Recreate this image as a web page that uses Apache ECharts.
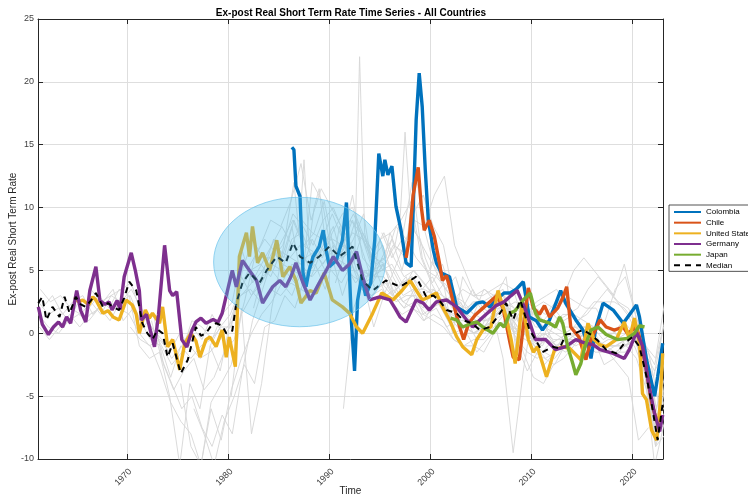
<!DOCTYPE html>
<html><head><meta charset="utf-8">
<script src="https://cdn.jsdelivr.net/npm/echarts@6/dist/echarts.min.js"></script>
<style>html,body{margin:0;padding:0;background:#fff}#c{width:748px;height:496px}</style>
</head><body><div id="c"></div><script>
// ---- axes ----
const xMin = 1961.17, xMax = 2023.03;
const yMin = -10, yMax = 25, yStep = 5;
const xTickYears = [1970, 1980, 1990, 2000, 2010, 2020];

// ---- highlighted series: [year, rate] ----
const colombia = [[1986.3,14.8],[1986.5,14.6],[1986.7,11.7],[1987.1,10.9],[1987.3,7.0],[1987.4,4.8],[1987.7,3.7],[1988.0,5.0],[1988.4,6.1],[1989.0,6.9],[1989.4,8.2],[1989.7,6.6],[1990.0,5.3],[1990.7,5.8],[1991.3,7.4],[1991.7,10.4],[1992.2,0.8],[1992.5,-3.0],[1992.8,2.6],[1993.2,4.5],[1993.6,3.0],[1994.1,4.0],[1994.5,7.4],[1994.9,14.3],[1995.3,12.5],[1995.5,13.8],[1995.8,12.6],[1996.2,13.3],[1996.6,10.1],[1997.1,8.2],[1997.6,5.6],[1998.1,5.3],[1998.3,9.8],[1998.6,17.0],[1998.9,20.7],[1999.2,18.0],[1999.5,13.0],[1999.8,9.0],[2000.3,6.6],[2000.6,5.6],[2001.1,4.8],[2001.9,4.5],[2002.6,2.1],[2003.6,1.6],[2004.6,2.4],[2005.2,2.5],[2005.9,2.1],[2006.5,2.65],[2007.3,3.2],[2007.9,3.2],[2008.5,3.5],[2009.2,4.1],[2009.8,1.3],[2010.5,1.0],[2011.1,0.26],[2011.8,1.06],[2012.9,3.4],[2013.4,2.4],[2014.4,1.06],[2015.1,0.26],[2015.6,-1.0],[2015.9,-2.0],[2016.4,0.5],[2017.1,2.4],[2018.1,1.85],[2019.1,0.8],[2020.4,2.25],[2020.7,1.3],[2021.4,-2.1],[2022.2,-5.0],[2022.5,-3.45],[2023.0,-0.8]];
const chile = [[1997.6,6.0],[1997.9,7.4],[1998.3,11.0],[1998.8,13.2],[1999.1,10.1],[1999.4,8.2],[1999.9,9.0],[2000.4,7.7],[2000.9,5.6],[2001.2,4.2],[2001.6,4.6],[2001.9,3.7],[2002.4,2.0],[2002.9,0.5],[2003.3,-0.5],[2003.8,0.8],[2004.5,1.5],[2005.2,2.0],[2005.9,2.5],[2006.6,3.0],[2007.2,2.0],[2007.9,-0.8],[2008.2,-1.9],[2008.8,-2.1],[2009.2,0.5],[2009.7,3.6],[2010.2,2.0],[2010.8,1.5],[2011.3,2.2],[2011.8,1.3],[2012.6,2.0],[2013.1,2.8],[2013.5,3.7],[2013.9,0.5],[2014.7,-0.3],[2015.4,-2.1],[2015.9,-0.5],[2016.8,1.06],[2017.4,0.5],[2018.2,0.26],[2019.1,0.5],[2019.5,0.0],[2020.4,0.5],[2020.7,-0.3],[2021.3,-2.5],[2021.9,-5.5],[2022.4,-7.0],[2022.8,-6.5]];
const unitedStates = [[1964.8,2.9],[1965.2,2.5],[1965.6,2.65],[1966.2,2.25],[1966.6,2.9],[1966.9,2.65],[1967.6,1.6],[1968.1,1.8],[1968.6,1.3],[1969.2,1.06],[1969.9,2.65],[1970.5,2.25],[1970.9,1.5],[1971.2,0.0],[1971.8,1.85],[1972.2,1.2],[1972.5,1.6],[1973.2,0.8],[1973.5,2.1],[1974.0,-1.07],[1974.5,-0.5],[1975.2,-2.9],[1975.7,-0.8],[1976.3,0.0],[1976.8,-0.6],[1977.2,-1.9],[1977.8,-0.5],[1978.2,-0.3],[1978.8,-1.06],[1979.4,0.26],[1979.8,-1.9],[1980.1,-0.3],[1980.7,-2.65],[1981.1,6.1],[1981.8,8.0],[1982.1,6.1],[1982.4,8.5],[1982.9,5.6],[1983.4,6.4],[1984.1,5.0],[1984.8,7.4],[1985.4,4.5],[1986.1,5.3],[1986.7,4.2],[1987.2,2.4],[1988.1,3.4],[1988.7,3.2],[1989.5,4.8],[1990.3,2.65],[1991.3,2.1],[1992.0,1.6],[1992.7,0.5],[1993.3,0.0],[1994.3,1.6],[1995.2,3.2],[1996.3,2.65],[1997.2,3.4],[1998.0,4.2],[1999.2,2.65],[1999.9,2.9],[2000.6,3.2],[2001.2,2.1],[2001.9,1.06],[2002.6,-0.27],[2003.2,-1.07],[2004.1,-1.7],[2004.6,-0.5],[2005.2,0.26],[2006.0,0.5],[2006.7,3.4],[2007.2,2.1],[2007.5,1.3],[2008.0,-0.5],[2008.4,-2.4],[2008.8,0.26],[2009.1,2.6],[2009.7,-0.5],[2010.2,-1.5],[2010.6,-1.07],[2011.5,-3.45],[2012.3,-1.3],[2013.1,-1.07],[2013.8,-1.2],[2014.9,-2.1],[2015.6,0.8],[2016.2,-0.5],[2016.8,-0.93],[2017.4,-1.07],[2018.4,-0.5],[2019.2,0.9],[2019.7,-0.5],[2020.2,1.2],[2020.7,-0.8],[2021.0,-4.8],[2021.4,-5.3],[2021.9,-7.7],[2022.4,-8.5],[2022.7,-6.1],[2023.0,-1.6]];
const germany = [[1961.2,2.1],[1961.6,0.7],[1962.2,-0.1],[1962.7,0.5],[1963.2,0.9],[1963.6,0.5],[1964.0,1.3],[1964.4,0.8],[1965.0,3.4],[1965.4,1.8],[1965.9,0.9],[1966.3,3.4],[1966.9,5.3],[1967.3,2.6],[1967.8,2.3],[1968.2,2.5],[1968.5,1.85],[1969.0,2.6],[1969.3,1.9],[1969.7,4.5],[1970.4,6.4],[1970.8,5.0],[1971.2,3.4],[1971.4,1.05],[1971.9,1.5],[1972.3,0.2],[1972.7,-1.07],[1973.1,1.5],[1973.7,7.0],[1974.2,3.4],[1974.5,3.0],[1974.9,3.3],[1975.4,-0.5],[1975.9,-1.1],[1976.4,0.2],[1976.8,0.9],[1977.3,1.2],[1977.8,0.8],[1978.5,1.1],[1979.0,0.9],[1979.4,1.6],[1980.1,4.0],[1980.4,5.0],[1980.8,3.7],[1981.4,5.8],[1982.1,5.0],[1982.8,4.2],[1983.4,2.4],[1984.0,3.2],[1984.4,3.7],[1985.1,4.2],[1985.7,3.7],[1986.2,4.5],[1986.7,5.6],[1987.4,4.0],[1988.1,2.65],[1989.0,4.0],[1989.7,5.0],[1990.4,6.1],[1991.3,5.0],[1992.0,5.5],[1992.7,6.5],[1993.3,4.5],[1994.0,2.65],[1995.0,2.9],[1996.0,2.65],[1996.5,2.0],[1997.0,1.3],[1997.6,0.9],[1998.6,2.65],[1999.3,2.4],[1999.9,1.85],[2000.6,2.5],[2001.6,2.65],[2002.6,2.1],[2003.6,1.06],[2004.2,0.5],[2004.9,1.06],[2005.5,1.5],[2006.5,2.2],[2007.3,2.5],[2008.0,3.0],[2008.6,3.4],[2009.4,1.9],[2010.4,-0.5],[2011.4,-0.5],[2012.4,-1.3],[2013.4,-1.07],[2014.4,-0.5],[2015.4,-0.8],[2016.1,-0.9],[2016.8,-1.3],[2018.1,-1.6],[2019.2,-2.0],[2019.7,-1.3],[2020.4,0.1],[2021.0,-1.0],[2021.6,-4.0],[2022.2,-6.4],[2022.7,-7.8],[2023.0,-6.5]];
const japan = [[2002.0,1.2],[2002.6,1.06],[2003.2,0.5],[2004.1,0.8],[2004.6,0.9],[2005.2,0.5],[2006.2,0.0],[2006.9,0.8],[2007.3,0.5],[2007.9,1.6],[2008.4,1.8],[2009.2,2.65],[2009.9,3.2],[2010.4,1.6],[2010.8,1.06],[2011.8,0.8],[2012.4,0.5],[2012.8,1.3],[2013.1,0.8],[2013.6,-1.07],[2014.1,-2.4],[2014.4,-3.3],[2014.9,-2.4],[2015.3,-1.07],[2015.9,0.26],[2016.6,0.5],[2017.4,-0.1],[2018.5,-0.5],[2019.5,-0.4],[2020.2,0.0],[2020.7,0.6],[2021.2,0.5]];
const median = [[1961.2,2.4],[1961.6,2.9],[1962.0,1.06],[1962.6,2.1],[1963.3,1.3],[1963.8,2.9],[1964.3,1.6],[1964.9,2.9],[1965.4,2.3],[1965.9,2.1],[1966.4,2.6],[1966.9,3.2],[1967.6,2.1],[1968.1,2.4],[1968.6,2.1],[1969.2,1.85],[1969.7,2.8],[1970.2,4.1],[1970.9,3.4],[1971.5,0.8],[1972.0,0.0],[1972.5,-0.5],[1973.0,0.3],[1973.5,0.0],[1974.0,-1.9],[1974.5,-0.8],[1975.3,-3.2],[1976.0,-2.1],[1976.8,0.5],[1977.3,-0.2],[1977.8,0.0],[1978.3,0.6],[1978.8,0.8],[1979.4,0.6],[1979.8,0.0],[1980.4,0.2],[1980.8,2.4],[1981.4,4.0],[1982.1,4.8],[1983.1,4.0],[1983.8,5.0],[1984.8,6.1],[1985.7,5.6],[1986.4,7.2],[1987.1,6.1],[1988.1,5.6],[1989.0,6.1],[1990.0,6.9],[1991.0,6.1],[1992.3,6.9],[1993.3,4.2],[1994.3,3.4],[1995.6,4.2],[1997.0,3.7],[1998.6,4.5],[1999.6,2.9],[2000.3,3.0],[2000.9,2.6],[2001.6,1.85],[2002.6,1.6],[2003.2,1.06],[2004.1,0.8],[2004.9,0.26],[2005.9,0.5],[2006.9,1.6],[2007.5,2.4],[2008.2,1.06],[2008.9,2.65],[2009.8,0.3],[2010.4,-0.5],[2011.1,-1.5],[2012.1,-1.07],[2012.8,-1.2],[2013.4,-0.1],[2014.3,0.0],[2015.1,0.26],[2015.9,-0.1],[2016.6,-0.6],[2017.4,-1.3],[2018.4,-1.6],[2019.2,-0.8],[2020.0,-0.3],[2020.7,-1.07],[2021.4,-3.45],[2021.9,-5.6],[2022.5,-8.5],[2023.0,-5.6]];

// ---- other countries (grey), regular steps from a start year ----
const grayA = [2.5,1.5,2.0,1.0,2.5,2.0,3.0,2.0,3.5,3.0,-1.0,-2.0,-1.5,-5.0,-10.5,-4.0,-6.0,-1.0,-3.0,1.0,3.5,5.0,5.5,4.5,6.5,6.0,5.5,4.5,6.5,7.5,6.0,6.5,3.5,3.0,4.0,3.0,4.0,4.5,3.0,3.5,3.0,2.0,1.5,2.5,2.5,2.0,3.0,1.0,-1.5,-3.5,-4.0,-2.5,-2.0,-1.0,0.0,-0.5,-2.5,-2.0,-1.0,-0.5,-2.5,-8.5,-4.5];
const grayB = [3.5,2.5,3.0,2.0,1.5,2.5,1.5,3.0,3.5,4.0,1.5,0.5,-1.0,-2.5,-1.5,1.0,0.5,-0.5,1.5,2.5,6.5,4.0,5.0,6.5,5.5,5.0,4.5,5.5,7.0,8.5,5.5,4.5,4.0,4.5,5.5,3.0,2.0,3.5,3.5,3.0,1.5,0.0,0.5,0.0,0.5,2.0,2.0,0.0,-0.5,-1.0,-2.0,-1.5,-0.5,-1.0,-0.5,-1.0,-1.0,-0.5,0.0,-0.5,-3.0,-6.0,-1.0];
const grayC = [0.5,-0.5,0.5,1.5,0.5,1.5,2.0,1.0,2.5,3.0,1.0,-0.5,-1.0,-3.5,-1.0,-2.0,-1.0,-0.5,0.5,0.5,4.5,3.0,4.5,5.0,4.0,5.5,5.0,4.5,5.5,6.5,6.5,8.0,7.5,5.0,5.5,3.5,2.5,3.0,2.0,3.5,2.5,1.0,0.5,0.0,0.5,1.5,2.5,1.5,0.0,-1.0,-1.5,-2.0,-1.0,-0.5,0.0,-0.5,-1.0,-1.5,-1.5,-0.5,-2.0,-7.5,-5.0];
const grayD = [0.5,-0.5,-1.0,-3.0,-5.5,-7.0,-8.0,-10.5,-5.5,-4.0,-2.5,1.5,3.0,4.0,5.5,5.0,7.5,8.0,6.0,7.5,7.5,7.0,9.0,6.5,4.0,5.5,4.0,2.5,2.0,1.0,1.5,1.0,-0.5,-1.0,-1.0,-1.5,0.0,1.0,0.5,0.0,-1.5,-2.0,-2.5,-1.0,0.0,0.5,0.0,-1.5,-1.5,-1.0,0.0,-2.5,-9.0,-6.0];
const grayE = [1.0,-2.0,-4.0,-6.0,-5.0,-7.5,-9.0,-6.5,-8.0,-3.0,1.0,3.5,6.0,7.0,9.5,8.5,7.0,9.0,10.0,8.0,9.5,7.5,6.5,8.0,6.0,4.5,5.0,4.0,3.0,4.0,3.0,2.0,1.5,1.0,1.5,2.0,2.5,2.0,0.5,0.5,-1.0,-1.5,-0.5,0.0,-0.5,-1.0,-1.0,-0.5,0.5,-1.5,-8.0,-3.0];
const grayF = [-1.0,0.5,1.5,3.5,5.5,7.0,9.0,8.5,10.5,13.5,9.0,11.5,10.0,8.5,7.0,5.0,4.5,5.0,5.5,4.0,4.5,3.5,4.5,3.0,2.5,3.5,3.0,3.0,3.5,4.0,3.5,1.0,2.0,2.5,2.0,1.0,1.5,1.0,0.5,0.0,0.0,-0.5,-1.0,-3.0,-6.5,-3.5];
const grayG = [-5.0,2.0,-8.0,-4.0,2.0,6.0,8.5,4.0,12.0,10.5,6.0,3.0,5.5,8.0,6.5,5.0,7.0,6.5,9.5,11.0,8.5,7.0,3.0,2.5,1.5,3.5,3.0,3.0,2.0,1.5,1.0,1.0,0.5,0.0,0.5,0.0,0.5,1.0,3.5,4.5,1.5,-1.0,-2.0,3.0];
const grayH = [5.0,7.0,9.5,12.0,8.0,13.8,7.0,10.0,11.5,8.0,7.0,6.0,8.5,7.0,6.5,5.5,22.0,8.0,6.0,5.0,7.5,6.0,8.0,7.0,9.0,16.0,10.0,8.0,7.5,6.0,5.0,6.5,4.5,3.5,3.0,2.0,2.5,1.5,1.0];
const grayI = [8.0,6.0,7.5,12.0,6.0,4.0,5.5,3.0,2.0,3.5,2.0,1.5,-2.0,-9.5,-3.0,2.0,1.0,2.0,3.0,5.0,6.0,5.0,4.0,3.0,5.5,2.0,-3.0,-10.5,-7.0];
const grayJ = [-6.0,2.0,4.0,0.5,3.0,5.0,7.0,9.0,8.5,11.0,12.5,7.0,5.0,3.0,3.5,2.5,2.5,1.0,2.5,2.0,1.5,2.5,3.0,2.5,2.0,2.0,0.5,0.0,-1.0,-2.0,-4.5,-8.0,-7.0];
const grayK = [6.0,7.0,5.0,7.0,5.5,6.0,9.0,8.0,6.0,7.5,8.0,9.0,10.5,6.0,4.0,2.5,1.5,1.0,1.0,0.5,2.5,2.5,0.5,0.0,-0.5,-1.0,0.5,1.5,1.5,0.5,0.5,-0.5,0.0,1.0,0.0,-1.5,-3.5,0.5];
const grayL = [3.0,4.0,5.5,7.0,8.5,7.0,9.0,8.0,7.5,9.5,7.5,11.0,6.0,5.0,6.0,5.0,3.5,5.0,4.0,3.0,2.0,3.5,1.0,0.5,0.5,1.0,2.5,2.0,0.0,-0.5,0.5,0.0,-0.5,-0.5,-0.5,-1.5,-1.5,-1.5,-1.0,-0.5,-3.5,-9.0,-8.0];
const grayM = [1.5,0.5,0.0,1.0,1.5,1.0,2.0,2.5,2.0,1.5,0.0,-1.0,-0.5,-1.5,0.0,-1.0,-2.0,-1.5,-0.5,0.5,3.0,3.5,2.5,3.5,3.0,4.0,3.5,3.0,4.5,5.0,4.0,5.5,3.5,3.0,3.5,2.5,1.5,2.0,1.5,2.0,2.5,1.0,0.0,0.0,0.5,1.0,1.5,1.0,0.0,-0.5,0.0,-0.5,-0.5,0.0,-0.5,-0.5,-1.0,-1.0,-1.0,-0.5,-1.5,-3.0,-1.5];
const grayN = [-4.0,-9.0,-10.5,-6.0,-8.5,-4.5,-2.0,0.0,1.5,2.5,4.0,3.0,5.0,7.5,6.0,8.0,9.5,10.0,8.0,6.0,7.0,4.5,3.0,3.5,1.5,1.0,0.5,-0.5,-1.0,-0.5,-0.5,0.5,1.5,0.0,1.0,-1.0,-2.5,-1.5,0.0,0.5,0.5,-0.5,-1.5,-1.0,-0.5,0.0,-2.0,-8.5,-6.0];
const grayO = [3.5,2.5,3.0,2.5,3.5,2.0,0.5,-0.5,-2.0,-1.0,0.5,-0.5,1.5,0.0,1.0,5.0,7.5,6.0,6.0,7.5,9.0,7.0,6.5,5.5,7.0,6.0,7.5,9.5,4.5,4.5,3.0,2.0,2.5,1.0,2.5,2.0,1.5,0.5,0.0,0.0,1.5,2.0,1.5,0.0,-0.5,0.0,-1.0,-0.5,-0.5,-0.5,-1.0,-1.0,-1.0,-1.0,-0.5,-2.0,-7.0,-5.5];
const grayP = [4.0,6.0,7.5,5.0,8.5,7.0,5.5,4.5,0.0,4.5,3.0,2.5,3.0,3.5,-2.0,2.5,1.5,0.5,1.5,0.5,0.5,1.5,2.5,2.5,2.5,2.0,1.0,-1.0,-2.5,1.0];
const grayQ = [2.0,3.0,1.5,2.5,3.0,1.5,2.5,3.5,1.0,2.0,0.5,1.5,-2.5,-4.5,-3.0,-2.0,-4.5,-3.5,-1.5,-0.5,2.5,6.0,7.5,6.5,5.0,4.0,6.0,6.5,5.0,6.0,5.5,4.0,5.0,3.5,4.0,2.5,3.0,3.0,2.0,2.5,1.5,2.0,1.5,1.0,1.0,1.5,2.0,0.5,0.0,-1.0,-0.5,-1.0,-0.5,0.0,-0.5,-1.0,-0.5,-0.5,-0.5,0.0,-2.5,-7.0];
const grayR = [2.0,5.0,7.5,6.0,9.0,7.0,8.0,10.5,6.5,7.0,5.0,4.0,6.0,5.5,7.0,6.0,13.0,8.0,5.0,3.5,4.5,2.0,2.5,1.5,3.0,4.5,-1.5,1.5,2.5,3.0,3.5,2.0,1.0,1.5,2.5,3.5,2.5,1.5,0.0,-4.0,-7.5];
const grayS = [4.0,6.5,9.0,7.0,5.5,6.0,8.5,7.5,6.0,5.0,4.5,3.5,2.0,1.0,-0.5,0.5,1.5,2.0,-1.0,-3.0,-1.5,0.5,1.0,1.5,2.0,3.5,4.5,3.5,2.5,2.0,0.5,-1.5,-5.5];
const grayT = [-6.0,-8.0,-10.5,-7.0,-5.0,-2.5,-4.0,0.5,1.0,3.0,2.0,4.5,5.5,3.5,6.5,7.5,6.0,4.5,5.0,3.0,3.5,4.5,2.5,1.5,2.0,0.5,1.0,0.0,-1.5,-0.5,0.5,1.0,-0.5,-1.5,-2.0,-1.0,-0.5,0.0,-0.5,-1.0,-0.5,-1.5,-2.5,-3.5,-8.5,-7.5];
const grayStarts = [1961.2, 1961.4, 1961.3, 1970.3, 1972.4, 1978.2, 1980.3, 1985.0, 1995.2, 1991.4, 1986.1, 1981.3, 1961.2, 1975.3, 1966.4, 1994.2, 1961.6, 1982.5, 1990.6, 1976.6];
const graySteps  = [1, 1, 1, 1, 1, 1, 1, 0.5, 1, 1, 1, 1, 1, 1, 1, 1, 1, 1, 1, 1];

// ---- highlighted area (ellipse, data units) ----
const ellipseCenter = [1987.06, 5.67];
const ellipseRadii = [8.51, 5.15];

const grays = [grayA, grayB, grayC, grayD, grayE, grayF, grayG, grayH, grayI, grayJ, grayK, grayL, grayM, grayN, grayO, grayP, grayQ, grayR, grayS, grayT];
const names = ['Colombia', 'Chile', 'United State', 'Germany', 'Japan', 'Median'];
const mainData = [colombia, chile, unitedStates, germany, japan, median];
const colors = ['#0072BD', '#D95319', '#EDB120', '#7E2F8E', '#77AC30', '#000000'];

const series = [];
grays.forEach((vals, k) => {
  series.push({
    type: 'line', data: vals.map((v, i) => [grayStarts[k] + i * graySteps[k], v]),
    symbol: 'none', silent: true, z: 1,
    lineStyle: { color: '#D6D6D6', width: 0.9 }
  });
});
mainData.forEach((d, k) => {
  const isMed = names[k] === 'Median';
  series.push({
    name: names[k], type: 'line', data: d, symbol: 'none', z: 3 + k,
    itemStyle: { color: colors[k] },
    lineStyle: isMed ? { color: '#000', width: 2, type: [6, 5] } : { color: colors[k], width: 3.4 }
  });
});
series.push({
  type: 'custom', silent: true, z: 20,
  data: [[ellipseCenter[0], ellipseCenter[1]]],
  renderItem: function (params, api) {
    const c = api.coord([api.value(0), api.value(1)]);
    const s = api.size(ellipseRadii);
    return {
      type: 'ellipse',
      shape: { cx: c[0], cy: c[1], rx: s[0], ry: s[1] },
      style: { fill: 'rgba(77,190,238,0.33)', stroke: 'rgba(110,195,235,0.7)', lineWidth: 1 }
    };
  }
});

const axisCol = '#262626';
const font = 'Liberation Sans, Arial, sans-serif';
const chart = echarts.init(document.getElementById('c'), null, { renderer: 'canvas' });
chart.setOption({
  animation: false,
  backgroundColor: '#fff',
  title: {
    text: 'Ex-post Real Short Term Rate Time Series - All Countries',
    left: 351, top: 8, padding: 0, textAlign: 'center',
    textStyle: { fontSize: 10, fontWeight: 'bold', color: '#000', fontFamily: font }
  },
  legend: {
    data: names, orient: 'vertical', left: 669, top: 205,
    padding: [2, 4, 1, 4], itemGap: 0.67, itemWidth: 27, itemHeight: 8,
    itemStyle: { opacity: 0 },
    backgroundColor: '#fff', borderColor: '#262626', borderWidth: 0.8, borderRadius: 0,
    textStyle: { fontSize: 8, lineHeight: 10, color: '#000', fontFamily: font }
  },
  grid: { left: 38, top: 19, right: 85, bottom: 37, containLabel: false, outerBoundsMode: 'none' },
  xAxis: [{
    type: 'value', min: xMin, max: xMax,
    name: 'Time', nameLocation: 'middle', nameGap: 27, nameMoveOverlap: false,
    nameTextStyle: { fontSize: 10, color: axisCol, fontFamily: font },
    axisLine: { show: true, onZero: false, lineStyle: { color: axisCol, width: 1 } },
    axisTick: { show: true, inside: true, length: 5, customValues: xTickYears, lineStyle: { color: axisCol } },
    axisLabel: { customValues: xTickYears, formatter: v => String(Math.round(v)), rotate: 45, fontSize: 9, color: '#404040', margin: 8,
      align: 'right', verticalAlign: 'top', fontFamily: font },
    splitLine: { show: true, lineStyle: { color: '#DEDEDE', width: 1 } }
  }, {
    type: 'value', min: xMin, max: xMax, position: 'top',
    axisLine: { show: true, onZero: false, lineStyle: { color: axisCol, width: 1 } },
    axisTick: { show: true, inside: true, length: 5, customValues: xTickYears, lineStyle: { color: axisCol } },
    axisLabel: { show: false }, splitLine: { show: false }
  }],
  yAxis: [{
    type: 'value', min: yMin, max: yMax, interval: yStep,
    name: 'Ex-post Real Short Term Rate', nameLocation: 'middle', nameGap: 20, nameMoveOverlap: false,
    nameTextStyle: { fontSize: 10, color: axisCol, fontFamily: font },
    axisLine: { show: true, onZero: false, lineStyle: { color: axisCol, width: 1 } },
    axisTick: { show: true, inside: true, length: 5, lineStyle: { color: axisCol } },
    axisLabel: { fontSize: 9, color: '#404040', margin: 4, fontFamily: font },
    splitLine: { show: true, lineStyle: { color: '#DEDEDE', width: 1 } }
  }, {
    type: 'value', min: yMin, max: yMax, interval: yStep, position: 'right',
    axisLine: { show: true, onZero: false, lineStyle: { color: axisCol, width: 1 } },
    axisTick: { show: true, inside: true, length: 5, lineStyle: { color: axisCol } },
    axisLabel: { show: false }, splitLine: { show: false }
  }],
  series: series
});
</script></body></html>
